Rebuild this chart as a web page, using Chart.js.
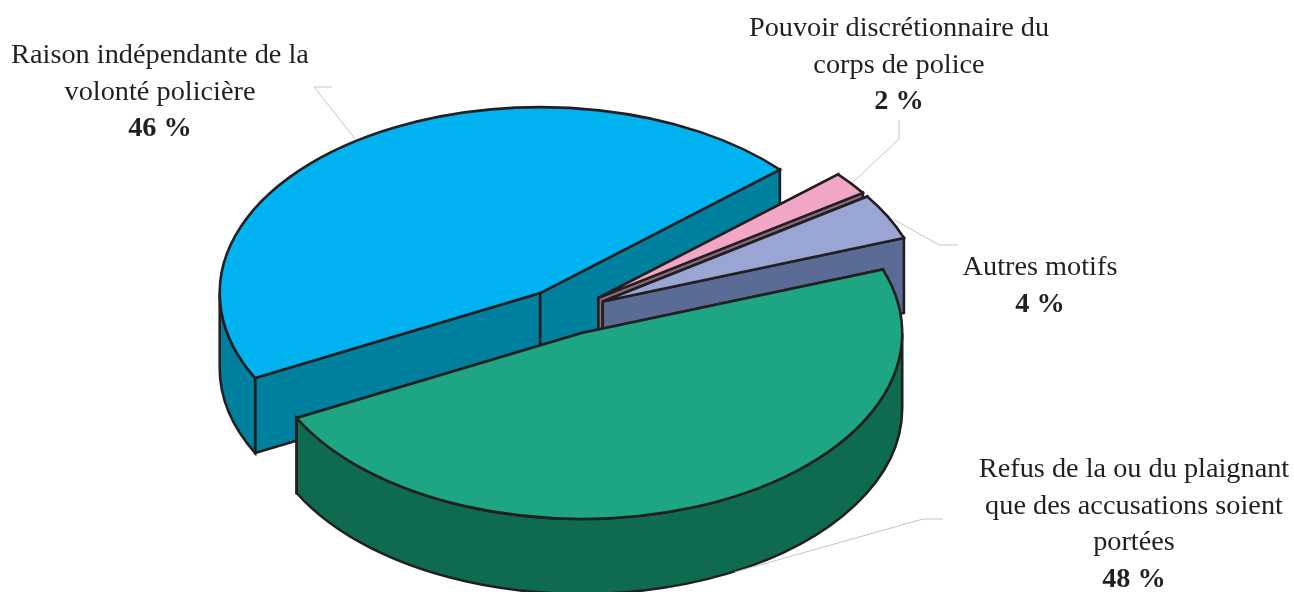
<!DOCTYPE html>
<html lang="fr">
<head>
<meta charset="utf-8">
<title>Motifs</title>
<script src="https://cdn.jsdelivr.net/npm/chart.js@4"></script>
<style>
    html, body { margin: 0; padding: 0; background: #fff; }
    #wrap { position: relative; width: 1294px; height: 592px; }
</style>
</head>
<body>
<div id="wrap"><canvas id="pieChart" width="1294" height="592"></canvas></div>
<script>
// Slices, clockwise from the lower left
const categories = [
    'Raison indépendante de la volonté policière',
    'Pouvoir discrétionnaire du corps de police',
    'Autres motifs',
    'Refus de la ou du plaignant que des accusations soient portées'
];
const shares = [46, 2, 4, 48];
const topColors = ['#00B2EF', '#F2A6C5', '#99A5D2', '#1EA684'];
const sideColors = ['#00809F', '#8A6B7E', '#5A6B95', '#0F6B50'];

// Label text, one entry per line, same order as the slices
const labelLines = [
    ['Raison indépendante de la', 'volonté policière'],
    ['Pouvoir discrétionnaire du', 'corps de police'],
    ['Autres motifs'],
    ['Refus de la ou du plaignant', 'que des accusations soient', 'portées']
];
const labelAnchors = [
    { x: 160, y: 63 },
    { x: 899, y: 36 },
    { x: 1040, y: 275 },
    { x: 1134, y: 477 }
];
const leaderLines = [
    [[332, 87], [314, 87], [356, 140]],
    [[899, 120], [899, 139], [852, 183]],
    [[958, 245], [939, 245], [893, 219]],
    [[943, 519], [923, 519], [735, 572]]
];

const TILT = 0.58;          // vertical squash of the pie disc
const EXPLODE_TILT = 0.534; // vertical squash of the pull-out distance
const DEPTH = 75;           // wall height in px
const EXPLODE = 43;         // distance each slice is pulled out
const INK = '#231F20';

const pie3d = {
    id: 'pie3d',
    beforeDatasetDraw(chart, args) {
        const ctx = chart.ctx;
        args.meta.data.forEach((arc, i) => {
            const mid = (arc.startAngle + arc.endAngle) / 2;
            const cx = arc.x + Math.cos(mid) * EXPLODE;
            const cy = arc.y + Math.sin(mid) * EXPLODE * EXPLODE_TILT;
            const r = arc.outerRadius;
            const rim = a => [cx + Math.cos(a) * r, cy + Math.sin(a) * r * TILT];

            ctx.save();
            ctx.lineWidth = 2.6;
            ctx.lineJoin = 'miter';
            ctx.strokeStyle = INK;
            ctx.fillStyle = sideColors[i];

            // Flat walls along both cut edges
            [arc.startAngle, arc.endAngle].forEach(a => {
                const [x, y] = rim(a);
                ctx.beginPath();
                ctx.moveTo(cx, cy);
                ctx.lineTo(x, y);
                ctx.lineTo(x, y + DEPTH);
                ctx.lineTo(cx, cy + DEPTH);
                ctx.closePath();
                ctx.fill();
                ctx.stroke();
            });

            // Curved wall, only where the rim faces the viewer
            for (let k = 0; k < 2; k++) {
                const from = Math.max(arc.startAngle, k * 2 * Math.PI);
                const to = Math.min(arc.endAngle, k * 2 * Math.PI + Math.PI);
                if (to <= from) continue;
                ctx.beginPath();
                ctx.ellipse(cx, cy, r, r * TILT, 0, from, to);
                ctx.ellipse(cx, cy + DEPTH, r, r * TILT, 0, to, from, true);
                ctx.closePath();
                ctx.fill();
                ctx.stroke();
            }

            // Top face: the library draws the arc on a squashed, shifted context
            ctx.save();
            ctx.translate(cx, cy);
            ctx.scale(1, TILT);
            ctx.translate(-arc.x, -arc.y);
            arc.draw(ctx);
            ctx.restore();

            // Outline stroked outside the squash so its width stays even
            ctx.beginPath();
            ctx.moveTo(cx, cy);
            ctx.ellipse(cx, cy, r, r * TILT, 0, arc.startAngle, arc.endAngle);
            ctx.closePath();
            ctx.stroke();
            ctx.restore();
        });
        return false;
    },
    afterDraw(chart) {
        const ctx = chart.ctx;
        ctx.save();

        ctx.strokeStyle = '#C4C4C4';
        ctx.lineWidth = 1;
        leaderLines.forEach(points => {
            ctx.beginPath();
            points.forEach(([x, y], i) => i ? ctx.lineTo(x, y) : ctx.moveTo(x, y));
            ctx.stroke();
        });

        ctx.fillStyle = INK;
        ctx.textAlign = 'center';
        ctx.textBaseline = 'alphabetic';
        labelLines.forEach((lines, i) => {
            const { x, y } = labelAnchors[i];
            ctx.font = '28.3px "Liberation Serif"';
            lines.forEach((line, n) => ctx.fillText(line, x, y + n * 36.5));
            ctx.font = 'bold 28.3px "Liberation Serif"';
            ctx.fillText(shares[i] + ' %', x, y + lines.length * 36.5);
        });
        ctx.restore();
    }
};

new Chart(document.getElementById('pieChart').getContext('2d'), {
    type: 'pie',
    data: {
        labels: categories,
        datasets: [{
            data: shares,
            backgroundColor: topColors,
            borderWidth: 0
        }]
    },
    options: {
        responsive: false,
        animation: false,
        rotation: 242.8,
        radius: 320.5,
        // puts the pie's centre at (564.5, 312)
        layout: { padding: { right: 165, top: 32 } },
        plugins: {
            legend: { display: false },
            tooltip: { enabled: false }
        }
    },
    plugins: [pie3d]
});
</script>
</body>
</html>
